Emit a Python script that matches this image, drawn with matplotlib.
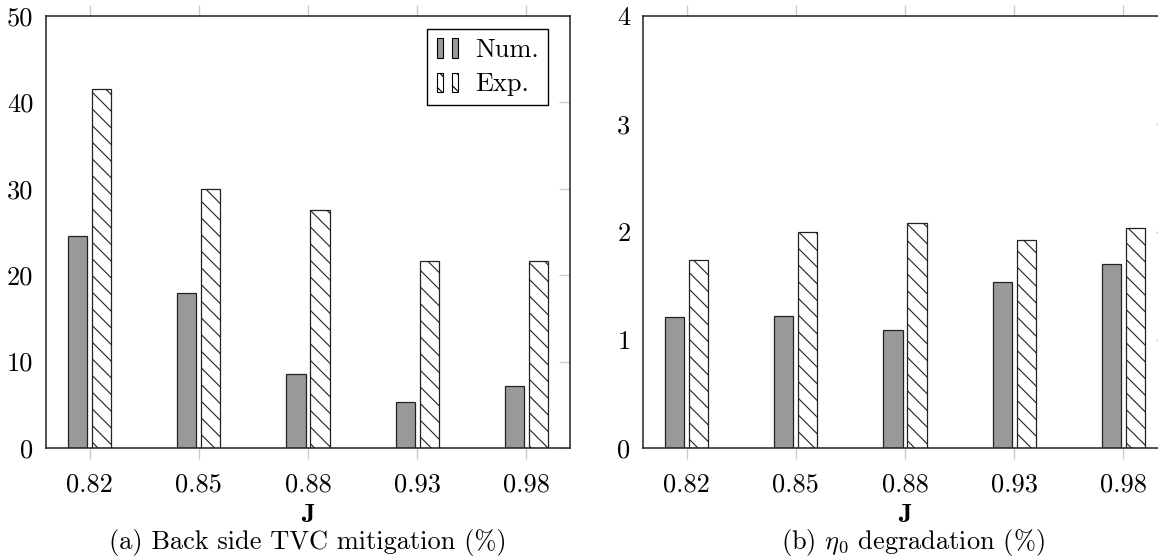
import numpy as np
import matplotlib
matplotlib.use("Agg")
import matplotlib.pyplot as plt
from matplotlib.patches import Rectangle
from matplotlib.legend_handler import HandlerBase

plt.rcParams['font.family'] = 'serif'
plt.rcParams['font.serif'] = ['cmr10', 'DejaVu Serif']
plt.rcParams['mathtext.fontset'] = 'cm'
plt.rcParams['axes.formatter.use_mathtext'] = True
plt.rcParams['hatch.linewidth'] = 0.8

# data
j_labels = ['0.82', '0.85', '0.88', '0.93', '0.98']
tvc_num = [24.5, 18.0, 8.6, 5.3, 7.2]
tvc_exp = [41.6, 30.0, 27.5, 21.6, 21.7]
eta_num = [1.21, 1.22, 1.09, 1.54, 1.70]
eta_exp = [1.74, 2.00, 2.08, 1.93, 2.04]

FS = 19
W = 0.175
OFF = 0.11


class TwoBarHandler(HandlerBase):
    # pgfplots style ybar legend: two little bars
    def create_artists(self, legend, orig, xd, yd, width, height, fontsize, trans):
        bw = width * 0.2
        out = []
        for x0 in [width * 0.0, width * 0.48]:
            r = Rectangle((x0 - xd, -yd - height * 0.05), bw, height * 1.05,
                          facecolor=orig.get_facecolor(), edgecolor='black',
                          hatch=orig.get_hatch(), lw=0.8, transform=trans)
            out.append(r)
        return out


def draw_panel(ax, num, exp, ymax, yticks, caption, cap_x):
    x = np.arange(len(j_labels))
    b1 = ax.bar(x - OFF, num, W, color='#999999', edgecolor='#222222', lw=0.9, label='Num.')
    b2 = ax.bar(x + OFF, exp, W, color='white', edgecolor='#222222', lw=0.9,
                hatch='\\\\', label='Exp.')
    ax.set_xlim(-0.4, 4.4)
    ax.set_ylim(0, ymax)
    ax.set_xticks(x)
    ax.set_xticklabels(j_labels, fontsize=FS)
    ax.set_yticks(yticks)
    ax.set_yticklabels([str(v) for v in yticks], fontsize=FS)
    ax.tick_params(axis='x', direction='out', length=8, color='#cccccc', width=1,
                   top=True, bottom=True, pad=10)
    ax.tick_params(axis='y', direction='in', length=8, color='#cccccc', width=1,
                   left=False, right=True, labelleft=True, pad=9)
    for s in ax.spines.values():
        s.set_linewidth(1.1)
        s.set_color('#222222')
    ax.set_xlabel('J', fontsize=FS, family='cmb10', labelpad=5)
    ax.text(cap_x, -0.218, caption, transform=ax.transAxes, ha='center', va='center',
            fontsize=FS)
    return b1.patches[0], b2.patches[0]


fig = plt.figure(figsize=(11.58, 5.56), dpi=100)
ax1 = fig.add_axes([0.0397, 0.1942, 0.4525, 0.777])
ax2 = fig.add_axes([0.5553, 0.1942, 0.4525, 0.777])

h1, h2 = draw_panel(ax1, tvc_num, tvc_exp, 50, [0, 10, 20, 30, 40, 50],
                    '(a) Back side TVC mitigation (%)', 0.5)
draw_panel(ax2, eta_num, eta_exp, 4, [0, 1, 2, 3, 4],
           r'(b) $\eta_0$ degradation (%)', 0.515)

leg = ax1.legend(handles=[h1, h2], labels=['Num.', 'Exp.'], loc='upper right', fontsize=FS,
                 handler_map={Rectangle: TwoBarHandler()},
                 frameon=True, fancybox=False, edgecolor='black', framealpha=1,
                 handlelength=1.2, handletextpad=0.25, borderpad=0.35,
                 labelspacing=0.4, borderaxespad=0,
                 bbox_to_anchor=(0.958, 0.97))
leg.get_frame().set_linewidth(1.0)

fig.savefig('out.png', dpi=100)
